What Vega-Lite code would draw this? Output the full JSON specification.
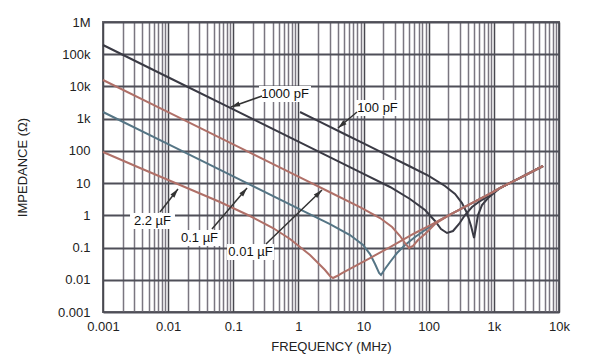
{
  "$schema": "https://vega.github.io/schema/vega-lite/v6.json",
  "width": 456,
  "height": 290,
  "autosize": {"type": "none"},
  "padding": {"left": 103, "top": 22, "right": 41, "bottom": 48},
  "background": "white",
  "config": {
    "font": "Liberation Sans",
    "view": {"stroke": "#66666c", "strokeWidth": 2},
    "axis": {
      "labelFont": "Liberation Sans",
      "labelFontSize": 13,
      "labelColor": "#222222",
      "titleFont": "Liberation Sans",
      "titleFontSize": 13,
      "titleFontWeight": "normal",
      "titleColor": "#222222",
      "domain": false,
      "ticks": false,
      "tickSize": 0,
      "labelOverlap": false,
      "labelFlush": false
    }
  },
  "datasets": {
    "curves": [
      {"c": "1000pF", "f": 0.001, "z": 193200},
      {"c": "1000pF", "f": 0.01, "z": 19320},
      {"c": "1000pF", "f": 0.1, "z": 1932},
      {"c": "1000pF", "f": 1, "z": 193.2},
      {"c": "1000pF", "f": 10, "z": 19.3},
      {"c": "1000pF", "f": 25.5, "z": 7.58},
      {"c": "1000pF", "f": 51.6, "z": 3.21},
      {"c": "1000pF", "f": 87.8, "z": 1.46},
      {"c": "1000pF", "f": 125, "z": 0.667},
      {"c": "1000pF", "f": 154.6, "z": 0.376},
      {"c": "1000pF", "f": 191, "z": 0.283},
      {"c": "1000pF", "f": 236, "z": 0.326},
      {"c": "1000pF", "f": 292, "z": 0.538},
      {"c": "1000pF", "f": 361, "z": 1.02},
      {"c": "1000pF", "f": 462, "z": 1.81},
      {"c": "1000pF", "f": 613.8, "z": 2.78},
      {"c": "1000pF", "f": 873, "z": 4.27},
      {"c": "1000pF", "f": 1245, "z": 7.05},
      {"c": "1000pF", "f": 1771, "z": 10.1},
      {"c": "1000pF", "f": 2523, "z": 14.6},
      {"c": "1000pF", "f": 5689, "z": 34},
      {"c": "100pF", "f": 1.057, "z": 1610},
      {"c": "100pF", "f": 2, "z": 851},
      {"c": "100pF", "f": 5, "z": 340},
      {"c": "100pF", "f": 10, "z": 170.2},
      {"c": "100pF", "f": 20, "z": 85.1},
      {"c": "100pF", "f": 50, "z": 34},
      {"c": "100pF", "f": 100, "z": 16.8},
      {"c": "100pF", "f": 177.8, "z": 8.13},
      {"c": "100pF", "f": 253.6, "z": 4.59},
      {"c": "100pF", "f": 324.5, "z": 2.41},
      {"c": "100pF", "f": 387, "z": 1.18},
      {"c": "100pF", "f": 446.5, "z": 0.466},
      {"c": "100pF", "f": 496.5, "z": 0.198},
      {"c": "100pF", "f": 532, "z": 0.434},
      {"c": "100pF", "f": 571, "z": 1.02},
      {"c": "100pF", "f": 658, "z": 2.09},
      {"c": "100pF", "f": 814, "z": 3.45},
      {"c": "100pF", "f": 1245, "z": 7.05},
      {"c": "100pF", "f": 1771, "z": 10.1},
      {"c": "100pF", "f": 2523, "z": 14.6},
      {"c": "100pF", "f": 5689, "z": 34},
      {"c": "0.1uF", "f": 0.001, "z": 1610},
      {"c": "0.1uF", "f": 0.01, "z": 161},
      {"c": "0.1uF", "f": 0.1, "z": 16.1},
      {"c": "0.1uF", "f": 1, "z": 1.61},
      {"c": "0.1uF", "f": 3.05, "z": 0.53},
      {"c": "0.1uF", "f": 6.19, "z": 0.245},
      {"c": "0.1uF", "f": 9.82, "z": 0.12},
      {"c": "0.1uF", "f": 12.56, "z": 0.063},
      {"c": "0.1uF", "f": 15, "z": 0.0308},
      {"c": "0.1uF", "f": 17.3, "z": 0.0162},
      {"c": "0.1uF", "f": 18.5, "z": 0.0141},
      {"c": "0.1uF", "f": 21.3, "z": 0.0216},
      {"c": "0.1uF", "f": 25.5, "z": 0.0356},
      {"c": "0.1uF", "f": 32.6, "z": 0.0676},
      {"c": "0.1uF", "f": 43.3, "z": 0.12},
      {"c": "0.1uF", "f": 61.7, "z": 0.212},
      {"c": "0.1uF", "f": 97.5, "z": 0.404},
      {"c": "0.1uF", "f": 149.3, "z": 0.716},
      {"c": "0.1uF", "f": 212.3, "z": 1.045},
      {"c": "0.1uF", "f": 302.6, "z": 1.527},
      {"c": "0.1uF", "f": 430.9, "z": 2.24},
      {"c": "0.1uF", "f": 613.8, "z": 3.26},
      {"c": "0.1uF", "f": 873.4, "z": 4.75},
      {"c": "0.1uF", "f": 1245, "z": 7.05},
      {"c": "0.1uF", "f": 1771, "z": 10.1},
      {"c": "0.1uF", "f": 2523, "z": 14.6},
      {"c": "0.1uF", "f": 5689, "z": 34},
      {"c": "0.01uF", "f": 0.001, "z": 15850},
      {"c": "0.01uF", "f": 0.01, "z": 1585},
      {"c": "0.01uF", "f": 0.1, "z": 158.5},
      {"c": "0.01uF", "f": 1, "z": 15.85},
      {"c": "0.01uF", "f": 3.05, "z": 5.2},
      {"c": "0.01uF", "f": 8.81, "z": 1.81},
      {"c": "0.01uF", "f": 17.9, "z": 0.826},
      {"c": "0.01uF", "f": 27.4, "z": 0.434},
      {"c": "0.01uF", "f": 36.3, "z": 0.228},
      {"c": "0.01uF", "f": 43.3, "z": 0.138},
      {"c": "0.01uF", "f": 49.9, "z": 0.0968},
      {"c": "0.01uF", "f": 57.4, "z": 0.112},
      {"c": "0.01uF", "f": 68.5, "z": 0.171},
      {"c": "0.01uF", "f": 87.8, "z": 0.263},
      {"c": "0.01uF", "f": 125, "z": 0.538},
      {"c": "0.01uF", "f": 212.3, "z": 1.045},
      {"c": "0.01uF", "f": 302.6, "z": 1.527},
      {"c": "0.01uF", "f": 430.9, "z": 2.24},
      {"c": "0.01uF", "f": 613.8, "z": 3.26},
      {"c": "0.01uF", "f": 873.4, "z": 4.75},
      {"c": "0.01uF", "f": 1245, "z": 7.05},
      {"c": "0.01uF", "f": 1771, "z": 10.1},
      {"c": "0.01uF", "f": 2523, "z": 14.6},
      {"c": "0.01uF", "f": 5689, "z": 34},
      {"c": "2.2uF", "f": 0.001, "z": 92.3},
      {"c": "2.2uF", "f": 0.003698, "z": 29.4},
      {"c": "2.2uF", "f": 0.01521, "z": 8.73},
      {"c": "2.2uF", "f": 0.0625, "z": 2.59},
      {"c": "2.2uF", "f": 0.1807, "z": 0.953},
      {"c": "2.2uF", "f": 0.4074, "z": 0.404},
      {"c": "2.2uF", "f": 0.743, "z": 0.184},
      {"c": "2.2uF", "f": 1.057, "z": 0.104},
      {"c": "2.2uF", "f": 1.507, "z": 0.0587},
      {"c": "2.2uF", "f": 2, "z": 0.0331},
      {"c": "2.2uF", "f": 2.56, "z": 0.0201},
      {"c": "2.2uF", "f": 3.05, "z": 0.0131},
      {"c": "2.2uF", "f": 3.4, "z": 0.01135},
      {"c": "2.2uF", "f": 3.91, "z": 0.0131},
      {"c": "2.2uF", "f": 4.67, "z": 0.0162},
      {"c": "2.2uF", "f": 7.4, "z": 0.0267},
      {"c": "2.2uF", "f": 12.56, "z": 0.0473},
      {"c": "2.2uF", "f": 25.5, "z": 0.104},
      {"c": "2.2uF", "f": 61.7, "z": 0.283},
      {"c": "2.2uF", "f": 104.7, "z": 0.49},
      {"c": "2.2uF", "f": 149.3, "z": 0.716},
      {"c": "2.2uF", "f": 212.3, "z": 1.045},
      {"c": "2.2uF", "f": 302.6, "z": 1.527},
      {"c": "2.2uF", "f": 430.9, "z": 2.24},
      {"c": "2.2uF", "f": 613.8, "z": 3.26},
      {"c": "2.2uF", "f": 873.4, "z": 4.75},
      {"c": "2.2uF", "f": 1245, "z": 7.05},
      {"c": "2.2uF", "f": 1771, "z": 10.1},
      {"c": "2.2uF", "f": 2523, "z": 14.6},
      {"c": "2.2uF", "f": 5689, "z": 34}
    ],
    "boxes": [
      {"f": 0.2483, "f2": 1.56, "z": 10320, "z2": 3289},
      {"f": 7.4, "f2": 36.3, "z": 3793, "z2": 1208},
      {"f": 0.0026, "f2": 0.01273, "z": 1.18, "z2": 0.376},
      {"f": 0.01416, "f2": 0.0648, "z": 0.35, "z2": 0.112},
      {"f": 0.0802, "f2": 0.4217, "z": 0.129, "z2": 0.041}
    ],
    "labels": [
      {"f": 0.622, "z": 5823, "t": "1000 pF"},
      {"f": 16.4, "z": 2143, "t": "100 pF"},
      {"f": 0.00575, "z": 0.667, "t": "2.2 µF"},
      {"f": 0.0303, "z": 0.198, "t": "0.1 µF"},
      {"f": 0.1837, "z": 0.0726, "t": "0.01 µF"}
    ],
    "arrows": [
      {"f": 0.276, "z": 5050, "f2": 0.0923, "z2": 2300, "a": 250},
      {"f": 7.93, "z": 1610, "f2": 4.05, "z2": 513, "a": 230},
      {"f": 0.0075, "z": 1.27, "f2": 0.01416, "z2": 6.56, "a": 38},
      {"f": 0.0471, "z": 0.376, "f2": 0.1626, "z2": 7.05, "a": 40},
      {"f": 0.3177, "z": 0.129, "f2": 2.3, "z2": 6.11, "a": 46}
    ]
  },
  "layer": [
    {
      "data": {"name": "boxes"},
      "mark": {"type": "rect", "fill": "white", "stroke": null},
      "encoding": {
        "x": {
          "field": "f", "type": "quantitative", "title": "FREQUENCY (MHz)",
          "scale": {"type": "log", "domain": [0.001, 10000], "nice": false},
          "axis": {
            "values": [0.001,0.002,0.003,0.004,0.005,0.006,0.007,0.008,0.009,0.01,0.02,0.03,0.04,0.05,0.06,0.07,0.08,0.09,0.1,0.2,0.3,0.4,0.5,0.6,0.7,0.8,0.9,1,2,3,4,5,6,7,8,9,10,20,30,40,50,60,70,80,90,100,200,300,400,500,600,700,800,900,1000,2000,3000,4000,5000,6000,7000,8000,9000,10000],
            "labelExpr": "indexof([0.001,0.01,0.1,1,10,100,1000,10000], datum.value) >= 0 ? (datum.value >= 1000 ? (datum.value / 1000) + 'k' : '' + datum.value) : ''",
            "grid": true,
            "gridColor": {"condition": {"test": "indexof([0.001,0.01,0.1,1,10,100,1000,10000], datum.value) >= 0", "value": "#48484f"}, "value": "#7a7680"},
            "gridWidth": 1.5,
            "labelPadding": 8,
            "titlePadding": 7
          }
        },
        "x2": {"field": "f2"},
        "y": {
          "field": "z", "type": "quantitative", "title": "IMPEDANCE (Ω)",
          "scale": {"type": "log", "domain": [0.001, 1000000], "nice": false},
          "axis": {
            "values": [0.001,0.01,0.1,1,10,100,1000,10000,100000,1000000],
            "labelExpr": "datum.value >= 1000000 ? '1M' : datum.value >= 1000 ? (datum.value / 1000) + 'k' : '' + datum.value",
            "grid": true,
            "gridColor": "#4f4f58",
            "gridWidth": 2,
            "labelPadding": 13,
            "titlePadding": 28
          }
        },
        "y2": {"field": "z2"}
      }
    },
    {
      "data": {"name": "curves"},
      "transform": [{"filter": "datum.c === '1000pF' || datum.c === '100pF'"}],
      "mark": {"type": "line", "color": "#3a3a44", "strokeWidth": 2},
      "encoding": {
        "x": {"field": "f", "type": "quantitative", "title": "FREQUENCY (MHz)", "scale": {"type": "log", "domain": [0.001, 10000], "nice": false}},
        "y": {"field": "z", "type": "quantitative", "title": "IMPEDANCE (Ω)", "scale": {"type": "log", "domain": [0.001, 1000000], "nice": false}},
        "detail": {"field": "c"}
      }
    },
    {
      "data": {"name": "curves"},
      "transform": [{"filter": "datum.c === '0.1uF'"}],
      "mark": {"type": "line", "color": "#557585", "strokeWidth": 2},
      "encoding": {
        "x": {"field": "f", "type": "quantitative", "title": "FREQUENCY (MHz)", "scale": {"type": "log", "domain": [0.001, 10000], "nice": false}},
        "y": {"field": "z", "type": "quantitative", "title": "IMPEDANCE (Ω)", "scale": {"type": "log", "domain": [0.001, 1000000], "nice": false}},
        "detail": {"field": "c"}
      }
    },
    {
      "data": {"name": "curves"},
      "transform": [{"filter": "datum.c === '0.01uF' || datum.c === '2.2uF'"}],
      "mark": {"type": "line", "color": "#b07068", "strokeWidth": 2},
      "encoding": {
        "x": {"field": "f", "type": "quantitative", "title": "FREQUENCY (MHz)", "scale": {"type": "log", "domain": [0.001, 10000], "nice": false}},
        "y": {"field": "z", "type": "quantitative", "title": "IMPEDANCE (Ω)", "scale": {"type": "log", "domain": [0.001, 1000000], "nice": false}},
        "detail": {"field": "c"}
      }
    },
    {
      "data": {"name": "arrows"},
      "mark": {"type": "rule", "color": "#333333", "strokeWidth": 1.5},
      "encoding": {
        "x": {"field": "f", "type": "quantitative", "title": "FREQUENCY (MHz)", "scale": {"type": "log", "domain": [0.001, 10000], "nice": false}},
        "y": {"field": "z", "type": "quantitative", "title": "IMPEDANCE (Ω)", "scale": {"type": "log", "domain": [0.001, 1000000], "nice": false}},
        "x2": {"field": "f2"},
        "y2": {"field": "z2"}
      }
    },
    {
      "data": {"name": "arrows"},
      "mark": {"type": "point", "shape": "M0,0L-1,3.6L1,3.6Z", "filled": true, "color": "#333333", "size": 25, "opacity": 1},
      "encoding": {
        "x": {"field": "f2", "type": "quantitative", "title": "FREQUENCY (MHz)", "scale": {"type": "log", "domain": [0.001, 10000], "nice": false}},
        "y": {"field": "z2", "type": "quantitative", "title": "IMPEDANCE (Ω)", "scale": {"type": "log", "domain": [0.001, 1000000], "nice": false}},
        "angle": {"field": "a", "type": "quantitative", "scale": null}
      }
    },
    {
      "data": {"name": "labels"},
      "mark": {"type": "text", "font": "Liberation Sans", "fontSize": 13, "color": "#111111", "align": "center", "baseline": "middle"},
      "encoding": {
        "x": {"field": "f", "type": "quantitative", "title": "FREQUENCY (MHz)", "scale": {"type": "log", "domain": [0.001, 10000], "nice": false}},
        "y": {"field": "z", "type": "quantitative", "title": "IMPEDANCE (Ω)", "scale": {"type": "log", "domain": [0.001, 1000000], "nice": false}},
        "text": {"field": "t"}
      }
    }
  ]
}
